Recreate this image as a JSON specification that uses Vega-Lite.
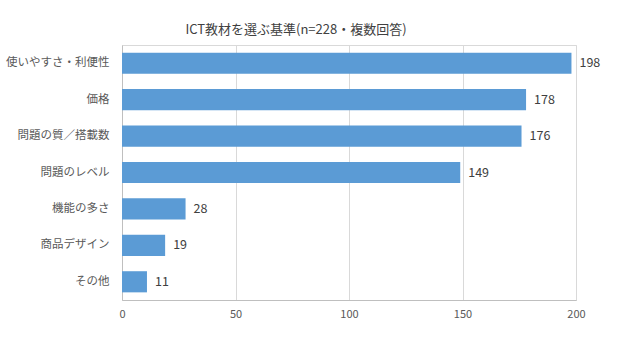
{
  "$schema": "https://vega.github.io/schema/vega-lite/v6.json",
  "width": 454,
  "height": 255,
  "autosize": {"type": "none"},
  "padding": {"left": 122, "top": 45, "right": 41, "bottom": 57},
  "background": "white",
  "title": {
    "text": "ICT教材を選ぶ基準(n=228・複数回答)",
    "font": "Noto Sans CJK JP",
    "fontSize": 13,
    "fontWeight": "normal",
    "color": "#404040",
    "anchor": "middle",
    "dx": -53,
    "offset": 8
  },
  "config": {
    "font": "Noto Sans CJK JP",
    "view": {"stroke": "#d9d9d9"}
  },
  "data": {
    "values": [
      {"item": "使いやすさ・利便性", "count": 198},
      {"item": "価格", "count": 178},
      {"item": "問題の質／搭載数", "count": 176},
      {"item": "問題のレベル", "count": 149},
      {"item": "機能の多さ", "count": 28},
      {"item": "商品デザイン", "count": 19},
      {"item": "その他", "count": 11}
    ]
  },
  "encoding": {
    "y": {
      "field": "item",
      "type": "nominal",
      "sort": null,
      "title": null,
      "scale": {"paddingInner": 0.42, "paddingOuter": 0.21},
      "axis": {
        "ticks": false,
        "domainColor": "#bfbfbf",
        "labelFontSize": 11.5,
        "labelColor": "#595959",
        "labelPadding": 13,
        "labelLimit": 200
      }
    },
    "x": {
      "field": "count",
      "type": "quantitative",
      "title": null,
      "scale": {"domain": [0, 200]},
      "axis": {
        "values": [0, 50, 100, 150, 200],
        "ticks": false,
        "labelFlush": false,
        "domainColor": "#bfbfbf",
        "gridColor": "#d9d9d9",
        "labelFontSize": 11,
        "labelColor": "#595959",
        "labelPadding": 8
      }
    }
  },
  "layer": [
    {"mark": {"type": "bar", "color": "#5B9BD5"}},
    {
      "mark": {"type": "text", "align": "left", "dx": 8, "fontSize": 12.5, "color": "#404040"},
      "encoding": {"text": {"field": "count", "type": "quantitative"}}
    }
  ]
}
